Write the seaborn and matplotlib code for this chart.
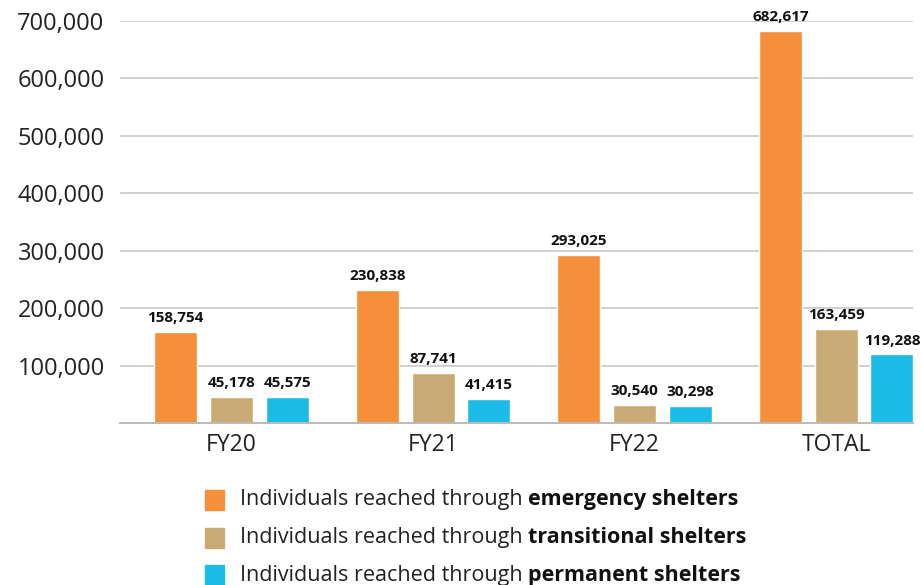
import pandas as pd
import numpy as np
import matplotlib
matplotlib.use("Agg")
import matplotlib.pyplot as plt
import seaborn as sns
from matplotlib.patches import Rectangle

periods = ["FY20", "FY21", "FY22", "TOTAL"]
emergency = [158754, 230838, 293025, 682617]
transitional = [45178, 87741, 30540, 163459]
permanent = [45575, 41415, 30298, 119288]
series_names = ["emergency shelters", "transitional shelters", "permanent shelters"]
colors = ["#F58F3A", "#C9AA74", "#1BBCE8"]
yticks = [100000, 200000, 300000, 400000, 500000, 600000, 700000]

df = pd.DataFrame({
    "Period": periods * 3,
    "Type": np.repeat(series_names, len(periods)),
    "Value": emergency + transitional + permanent,
})

sns.set_theme(style="white")
plt.rcParams["font.family"] = ["Open Sans", "DejaVu Sans"]

fig = plt.figure(figsize=(9.22, 5.85), dpi=100)
ax = fig.add_axes([0.130, 0.277, 0.860, 0.687])

sns.barplot(data=df, x="Period", y="Value", hue="Type", palette=colors,
            width=0.83, gap=0.23, ax=ax, legend=False, saturation=1)

for cont in ax.containers:
    ax.bar_label(cont, labels=[f"{v:,.0f}" for v in cont.datavalues],
                 padding=5, fontsize=11, fontweight="bold", color="#111111")

ax.set_ylim(0, 700000)
ax.set_xlim(-0.554, 3.38)
ax.set_yticks(yticks)
ax.set_yticklabels([f"{t:,}" for t in yticks], fontsize=17, color="#222222")
ax.tick_params(axis="x", labelsize=16.5, colors="#222222", length=0, pad=7)
ax.tick_params(axis="y", length=0, pad=11)
ax.yaxis.grid(True, color="#D3CFCB", linewidth=1.4)
ax.set_axisbelow(True)
ax.set_xlabel("")
ax.set_ylabel("")
for s in ["top", "right", "left"]:
    ax.spines[s].set_visible(False)
ax.spines["bottom"].set_color("#BDB9B5")
ax.spines["bottom"].set_linewidth(1.4)

# legend with mixed weights
fig.canvas.draw()
renderer = fig.canvas.get_renderer()
W, H = fig.get_size_inches() * fig.dpi
for i, (name, c) in enumerate(zip(series_names, colors)):
    yc = 500 + i * 37.5
    fig.patches.append(Rectangle((205 / W, 1 - (yc + 10) / H), 19 / W, 20 / H,
                                 color=c, transform=fig.transFigure))
    t = fig.text(240 / W, 1 - yc / H, "Individuals reached through ",
                 fontsize=15.5, va="center", ha="left", color="#222222")
    bb = t.get_window_extent(renderer)
    fig.text(bb.x1 / W, 1 - yc / H, name, fontsize=15.5, va="center",
             ha="left", fontweight="bold", color="#111111")

fig.savefig("out.png", dpi=100)
